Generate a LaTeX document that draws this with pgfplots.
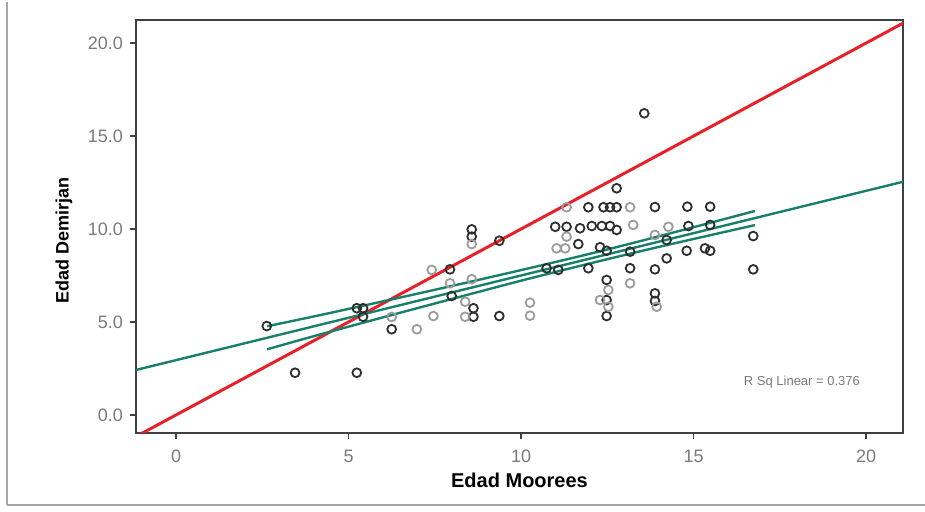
\documentclass[border=0pt]{standalone}
\usepackage{pgfplots}
\pgfplotsset{compat=1.18}
\usepackage{fontspec}
\setmainfont{Liberation Sans}
\definecolor{fitgreen}{HTML}{18806A}
\definecolor{refred}{HTML}{E8202A}
\definecolor{tickgray}{HTML}{7A7A7A}
\definecolor{darkpt}{HTML}{2E2E2E}
\definecolor{lightpt}{HTML}{9C9C9C}
\begin{document}
\begin{tikzpicture}
\path[use as bounding box] (-68pt,-39.5pt) rectangle (394.5pt,216.5pt);
\draw[gray!70, line width=0.8pt] (-64.5pt,-36pt) -- (-64.5pt,215.5pt);
\draw[gray!70, line width=0.8pt] (-64.5pt,-36pt) -- (400pt,-36pt);
\begin{axis}[
  scale only axis,
  width=383.5pt, height=206.5pt,
  xmin=-1.16, xmax=21.07, ymin=-0.97, ymax=21.24,
  axis line style={draw=black!75, line width=0.6pt},
  xtick={0,5,10,15,20}, ytick={0,5,10,15,20},
  tick align=outside, tick pos=left,
  major tick length=3pt,
  tick style={black!75, line width=0.6pt},
  ticklabel style={font=\fontsize{9}{10}\selectfont, text=tickgray},
  /pgf/number format/assume math mode=true,
  yticklabel style={/pgf/number format/fixed, /pgf/number format/fixed zerofill, /pgf/number format/precision=1},
  xticklabel style={yshift=-2pt},
  xlabel={\textbf{Edad Moorees}},
  ylabel={\textbf{Edad Demirjan}},
  xlabel style={font=\fontsize{10}{12}\selectfont, yshift=2pt},
  every axis y label/.style={at={(axis description cs:-0.094,0.465)}, rotate=90, anchor=center, font=\fontsize{9}{11}\selectfont},
  clip=true,
]
% dark points
\addplot[only marks, mark=o, mark size=2.2pt, mark options={draw=darkpt, line width=0.9pt}] coordinates {
(2.63,4.78) (3.45,2.27) (5.24,2.27) (5.24,5.74) (5.42,5.74) (5.42,5.28)
(6.25,4.61) (7.94,7.83) (7.99,6.40) (8.62,5.74) (8.62,5.28)
(8.57,9.98) (8.57,9.59) (9.37,9.37) (9.37,5.32) (10.74,7.89) (11.08,7.80)
(10.99,10.12) (11.32,10.12) (11.71,10.04) (11.66,9.19) (11.95,11.17) (11.95,7.89)
(12.05,10.16) (12.34,10.16) (12.58,10.16) (12.39,11.17) (12.58,11.17) (12.77,11.17)
(12.77,12.19) (12.77,9.95) (12.29,9.02) (12.48,8.83) (12.48,7.26) (12.48,6.18)
(12.48,5.32) (13.16,8.78) (13.16,7.89) (13.57,16.22) (13.88,11.18) (13.88,7.83)
(13.88,6.54) (13.88,6.13) (14.22,9.41) (14.22,8.42) (14.82,11.20) (14.85,10.16)
(14.80,8.83) (15.48,11.20) (15.48,10.22) (15.33,8.96) (15.48,8.83) (16.73,9.62)
(16.73,7.83)
};
% light points
\addplot[only marks, mark=o, mark size=2.2pt, mark options={draw=lightpt, line width=0.9pt}] coordinates {
(6.98,4.61) (7.46,5.32) (7.41,7.80) (7.94,7.08) (8.38,6.09) (8.57,7.30)
(8.38,5.28) (8.57,9.19) (10.26,6.04) (10.26,5.34) (11.32,11.17) (11.32,9.59)
(11.03,8.96) (11.28,8.96) (12.53,6.72) (12.29,6.18) (12.53,5.82) (13.16,11.17)
(13.25,10.22) (13.16,7.08) (13.88,9.68) (13.93,5.82) (14.27,10.12) (6.25,5.27)
};
% reference line y = x
\addplot[refred, line width=1.5pt] coordinates {(-1.3,-1.3) (21.4,21.4)};
% fit line
\addplot[fitgreen, line width=1.2pt] coordinates {(-1.16,2.42) (21.07,12.54)};
% confidence band of the mean
\addplot[fitgreen, line width=1.2pt, smooth] coordinates {(2.64,4.77) (4,5.30) (6,6.11) (8,6.94) (10,7.79) (12,8.67) (14,9.61) (16.78,10.97)};
\addplot[fitgreen, line width=1.2pt, smooth] coordinates {(2.64,3.53) (4,4.24) (6,5.25) (8,6.24) (10,7.22) (12,8.15) (14,9.04) (16.78,10.21)};
\node[font=\fontsize{6.5}{8}\selectfont, text=tickgray] at (axis cs:18.14,1.74) {R Sq Linear = 0.376};
\end{axis}
\end{tikzpicture}
\end{document}
